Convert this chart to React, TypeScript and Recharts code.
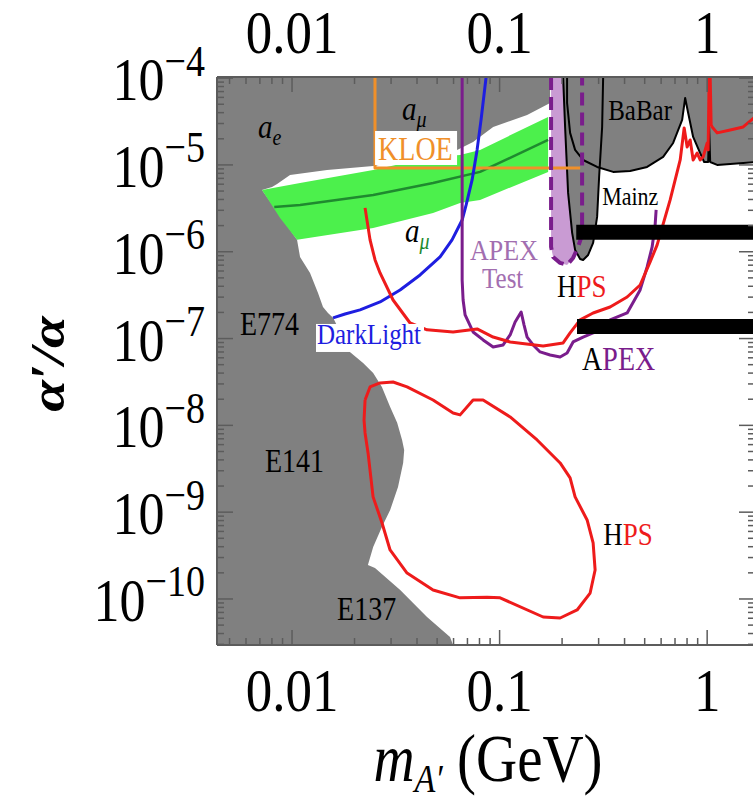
import type { ReactNode } from 'react'
import { ComposedChart, Scatter, XAxis, YAxis } from 'recharts'

type Pt = [number, number] // [m_A' in GeV, alpha'/alpha]

const SERIF = '"Liberation Serif", "Times New Roman", serif'
// the figure's lettering is a little taller than it is wide
const SY = 1.17

const GRAY = '#808080'
const BAND = '#4cf04c'
const BAND_LINE = '#1f8a2f'
const LILAC = '#c99bd3'
const PURPLE = '#7a1d8c'
const PURPLE_TEXT = '#a26eb0'
const RED = '#ee1b1b'
const BLUE = '#1e1ee0'
const ORANGE = '#f0902a'
const FRAME = '#5c5c5c'

const xDomain: [number, number] = [0.00435, 1.7]
const yDomain: [number, number] = [2.95e-11, 1.03e-4]
const xMajor = [0.01, 0.1, 1]
const yMajor = [1e-4, 1e-5, 1e-6, 1e-7, 1e-8, 1e-9, 1e-10]

// a_e, a_mu, E774, E141, E137 excluded region
const lowMassLimits: Pt[] = [
  [0.00435, 1.03e-4], [0.00435, 2.95e-11], [0.0597, 2.95e-11], [0.0577, 3.65e-11],
  [0.0447, 6.2e-11], [0.0332, 1.27e-10], [0.0251, 2.28e-10], [0.0232, 2.46e-10],
  [0.0246, 3.97e-10], [0.0271, 6.75e-10], [0.0297, 1.06e-9], [0.0324, 1.95e-9],
  [0.0343, 3.69e-9], [0.0347, 5.21e-9], [0.0339, 6.79e-9], [0.0321, 1.07e-8],
  [0.0297, 1.63e-8], [0.0271, 2.77e-8], [0.0246, 4.02e-8], [0.022, 5.24e-8],
  [0.019, 7.01e-8], [0.0158, 1.73e-7], [0.0149, 1.97e-7], [0.0141, 2.31e-7],
  [0.01334, 3.35e-7], [0.01221, 5.7e-7], [0.01093, 8.71e-7], [0.01057, 1.37e-6],
  [0.00717, 5.15e-6], [0.00801, 5.58e-6], [0.00847, 6.04e-6], [0.00978, 7.67e-6],
  [0.01475, 8.76e-6], [0.0246, 9.74e-6], [0.0383, 1.17e-5], [0.0597, 1.41e-5],
  [0.0745, 1.84e-5], [0.0931, 2.74e-5], [0.1357, 3.77e-5], [0.1751, 5.18e-5],
  [0.1751, 1.03e-4],
]

// muon g-2 favoured band and its central value
const g2Band: Pt[] = [
  [0.00717, 5.15e-6], [0.01093, 6.2e-6], [0.0246, 8.76e-6], [0.0478, 1.24e-5],
  [0.0645, 1.3e-5], [0.0805, 1.49e-5], [0.1713, 3.57e-5], [0.1713, 8.31e-6],
  [0.0805, 3.95e-6], [0.0645, 3.65e-6], [0.0478, 2.8e-6], [0.0246, 1.88e-6],
  [0.01057, 1.37e-6], [0.00876, 2.45e-6],
]
const g2Central: Pt[] = [
  [0.00821, 3.28e-6], [0.01093, 3.46e-6], [0.0246, 4.51e-6], [0.0478, 6.2e-6],
  [0.0805, 8.31e-6], [0.1713, 1.94e-5],
]

const apexTest: Pt[] = [
  [0.177, 1.03e-4], [0.177, 1.136e-6], [0.181, 8.71e-7], [0.1957, 7.43e-7],
  [0.2114, 7.05e-7], [0.226, 8.48e-7], [0.2389, 1.136e-6], [0.2497, 1.56e-6],
  [0.2497, 1.03e-4],
]

const mainz: Pt[] = [
  [0.2023, 1.03e-4], [0.2068, 2.74e-5], [0.2138, 4.76e-6], [0.2236, 1.65e-6],
  [0.2311, 1.049e-6], [0.2443, 8.26e-7], [0.2525, 8.04e-7], [0.267, 9.19e-7],
  [0.2822, 1.263e-6], [0.295, 2.52e-6], [0.3016, 7.27e-6], [0.3119, 2.74e-5],
  [0.3154, 1.03e-4],
]

const babar: Pt[] = [
  [0.2114, 1.03e-4], [0.2114, 5.18e-5], [0.2186, 2.34e-5], [0.2311, 1.49e-5],
  [0.2525, 1.14e-5], [0.295, 9.48e-6], [0.3524, 8.31e-6], [0.4254, 8.53e-6],
  [0.5137, 9.48e-6], [0.6137, 1.24e-5], [0.6857, 1.79e-5], [0.7577, 3.3e-5],
  [0.7834, 5.91e-5], [0.81, 3.97e-5], [0.856, 2.1e-5], [0.9253, 1.37e-5],
  [0.9672, 1.08e-5], [1.011, 1.08e-5], [1.022, 2.74e-5], [1.034, 1.08e-5],
  [1.117, 1.0e-5], [1.291, 1.027e-5], [1.7, 1.08e-5],
]
const babarTop: Pt[] = [[1.7, 1.03e-4]]

const kloe: Pt[] = [[0.0251, 1.03e-4], [0.0251, 9.23e-6], [0.2443, 9.23e-6]]

const darkLight: Pt[] = [
  [0.01576, 1.73e-7], [0.018, 1.92e-7], [0.02127, 2.14e-7], [0.02655, 2.64e-7],
  [0.03315, 3.63e-7], [0.0414, 5.4e-7], [0.05166, 8.71e-7], [0.059, 1.37e-6],
  [0.066, 2.32e-6], [0.069, 3.46e-6], [0.0737, 6.72e-6], [0.0779, 1.49e-5],
  [0.0814, 3.3e-5], [0.0861, 1.03e-4],
]

const apex: Pt[] = [
  [0.066, 1.03e-4], [0.066, 4.73e-7], [0.0667, 2.78e-7], [0.0682, 1.87e-7],
  [0.0745, 1.19e-7], [0.0833, 9.64e-8], [0.0931, 8.0e-8], [0.104, 8.44e-8],
  [0.1124, 1.1e-7], [0.1188, 1.55e-7], [0.127, 2.02e-7], [0.1312, 1.43e-7],
  [0.1357, 1.04e-7], [0.145, 8.44e-8], [0.1567, 7.01e-8], [0.1751, 6.47e-8],
  [0.1957, 6.14e-8], [0.2114, 6.82e-8], [0.226, 9.14e-8], [0.2525, 1.04e-7],
  [0.2822, 1.16e-7], [0.3407, 1.64e-7], [0.4116, 1.97e-7], [0.4754, 3.63e-7],
  [0.5137, 6.68e-7], [0.5431, 1.136e-6], [0.5615, 2.04e-6], [0.5677, 3.03e-6],
]

const hpsHigh: Pt[] = [
  [0.02248, 3.2e-6], [0.02376, 1.37e-6], [0.02512, 8.04e-7], [0.02655, 5.7e-7],
  [0.03067, 2.78e-7], [0.03704, 1.51e-7], [0.04472, 1.26e-7], [0.05969, 1.19e-7],
  [0.07792, 1.29e-7], [0.09305, 1.04e-7], [0.1124, 9.14e-8], [0.1621, 8.22e-8],
  [0.2023, 8.9e-8], [0.2186, 1.16e-7], [0.2443, 1.64e-7], [0.2822, 1.97e-7],
  [0.3407, 2.31e-7], [0.4116, 3.01e-7], [0.4754, 4.14e-7], [0.5312, 7.63e-7],
  [0.5741, 1.2e-6], [0.6632, 3.95e-6], [0.7413, 1.14e-5], [0.7748, 2.67e-5],
  [0.8009, 1.61e-5], [0.8281, 1.94e-5], [0.856, 1.14e-5], [0.8951, 1.37e-5],
  [0.9253, 1.14e-5], [0.9566, 1.24e-5], [1.0, 1.79e-5], [1.011, 1.49e-5],
  [1.022, 1.03e-4], [1.034, 1.03e-4], [1.045, 2.89e-5], [1.057, 2.74e-5],
  [1.117, 2.34e-5], [1.291, 2.53e-5], [1.491, 2.74e-5], [1.7, 3.57e-5],
]

const hpsLow: Pt[] = [
  [0.02248, 1.96e-8], [0.02376, 2.77e-8], [0.02655, 3.08e-8], [0.03067, 3.16e-8],
  [0.03582, 2.77e-8], [0.0478, 1.96e-8], [0.05969, 1.39e-8], [0.06451, 1.32e-8],
  [0.07453, 1.96e-8], [0.08326, 1.96e-8], [0.1124, 1.25e-8], [0.1516, 6.79e-9],
  [0.1957, 3.69e-9], [0.2186, 2.48e-9], [0.2311, 1.5e-9], [0.264, 8.13e-10],
  [0.2822, 4.42e-10], [0.2885, 2.16e-10], [0.273, 1.17e-10], [0.2363, 7.47e-11],
  [0.1957, 6.04e-11], [0.1621, 6.2e-11], [0.1006, 1.03e-10], [0.08704, 1.05e-10],
  [0.06451, 1.03e-10], [0.0478, 1.27e-10], [0.03582, 1.99e-10], [0.02967, 3.67e-10],
  [0.02714, 7.51e-10], [0.02457, 1.5e-9], [0.02324, 4.81e-9], [0.02248, 8.18e-9],
  [0.02223, 1.15e-8], [0.02248, 1.96e-8],
]

// thick black bars on the right
const barHigh: Pt[] = [[0.234, 2.04e-6], [1.7, 2.04e-6], [1.7, 1.37e-6], [0.234, 1.37e-6]]
const barLow: Pt[] = [[0.236, 1.68e-7], [1.7, 1.68e-7], [1.7, 1.13e-7], [0.236, 1.13e-7]]

// baseline-left anchor of every annotation
const labelAt: Record<string, Pt> = {
  ae: [0.00686, 2.05e-5],
  amuTop: [0.0339, 3.3e-5],
  kloe: [0.02597, 1.14e-5],
  amuBand: [0.03503, 1.3e-6],
  e774: [0.00561, 1.1e-7],
  darkLight: [0.01319, 8.66e-8],
  e141: [0.00741, 2.9e-9],
  e137: [0.01648, 5.73e-11],
  babar: [0.3334, 3.3e-5],
  mainz: [0.3119, 3.46e-6],
  apexTest: [0.07208, 8.04e-7],
  test: [0.0823, 3.83e-7],
  hpsHigh: [0.1892, 3.01e-7],
  apex: [0.2497, 4.35e-8],
  hpsLow: [0.3154, 4.19e-10],
}

// 2..9 marks inside every decade of a range
function minorTicks(lo: number, hi: number) {
  const out: number[] = []
  for (let e = Math.floor(Math.log10(lo)); e <= Math.ceil(Math.log10(hi)); e++) {
    for (let k = 2; k <= 9; k++) {
      const v = k * 10 ** e
      if (v > lo && v < hi) out.push(v)
    }
  }
  return out
}
const xTicks = [...xMajor, ...minorTicks(xDomain[0], xDomain[1])].sort((a, b) => a - b)
const yTicks = [...yMajor, ...minorTicks(yDomain[0], yDomain[1])].sort((a, b) => a - b)

const rows = (pts: Pt[]) => pts.map(([m, r]) => ({ m, r }))
const NoDot = () => <g />

function region(pts: Pt[], fill: string) {
  return (
    <Scatter
      data={rows(pts)}
      fill={fill}
      line={{ fill, stroke: 'none' }}
      shape={NoDot}
      isAnimationActive={false}
    />
  )
}

function curve(pts: Pt[], stroke: string, width: number, dash?: string) {
  return (
    <Scatter
      data={rows(pts)}
      fill={stroke}
      line={{ stroke, strokeWidth: width, strokeDasharray: dash, fill: 'none', strokeLinejoin: 'round' }}
      shape={NoDot}
      isAnimationActive={false}
    />
  )
}

function note(at: Pt, draw: (x: number, y: number) => ReactNode) {
  return (
    <Scatter
      data={rows([at])}
      shape={(p: any) => <g>{draw(p.cx, p.cy)}</g>}
      isAnimationActive={false}
    />
  )
}

function Txt(props: {
  x: number
  y: number
  size: number
  fill?: string
  italic?: boolean
  bold?: boolean
  anchor?: 'start' | 'middle' | 'end'
  children: ReactNode
}) {
  const { x, y, size, fill = '#000', italic, bold, anchor = 'start', children } = props
  return (
    <g transform={`translate(${x},${y}) scale(1,${SY})`}>
      <text
        fontFamily={SERIF}
        fontSize={size}
        fill={fill}
        fontStyle={italic ? 'italic' : 'normal'}
        fontWeight={bold ? 'bold' : 'normal'}
        textAnchor={anchor}
      >
        {children}
      </text>
    </g>
  )
}

function XTick(props: any) {
  const { x, y, payload, side } = props
  const v = payload.value
  const major = xMajor.includes(v)
  const dir = side === 'top' ? 1 : -1
  return (
    <g>
      <line x1={x} y1={y} x2={x} y2={y + dir * (major ? 15 : 7)} stroke={FRAME} strokeWidth={1.5} />
      {major && (
        <Txt x={x} y={side === 'top' ? y - 24 : y + 66} size={53} anchor="middle">
          {String(v)}
        </Txt>
      )}
    </g>
  )
}

function YTick(props: any) {
  const { x, y, payload, side } = props
  const v = payload.value
  const major = yMajor.includes(v)
  const dir = side === 'right' ? -1 : 1
  return (
    <g>
      <line x1={x} y1={y} x2={x + dir * (major ? 16 : 7)} y2={y} stroke={FRAME} strokeWidth={1.5} />
      {major && side !== 'right' && (
        <Txt x={x - 12} y={y + 22} size={52} anchor="end">
          10
          <tspan fontSize={38} dy={-21}>{`\u2212${-Math.round(Math.log10(v))}`}</tspan>
        </Txt>
      )}
    </g>
  )
}

function XTitle(props: any) {
  const vb = props.viewBox
  return (
    <Txt x={vb.x + vb.width / 2 + 2} y={vb.y + 136} size={57} anchor="middle">
      <tspan fontStyle="italic">m</tspan>
      <tspan fontStyle="italic" fontSize={34} dy={9}>{'A\u2032'}</tspan>
      <tspan dy={-9}> (GeV)</tspan>
    </Txt>
  )
}

function YTitle(props: any) {
  const vb = props.viewBox
  const cx = vb.x + 48
  const cy = vb.y + vb.height / 2 + 3
  return (
    <g transform={`translate(${cx},${cy}) scale(1,${SY}) rotate(-90)`}>
      <text fontFamily={SERIF} fontSize={49} fontWeight="bold" fontStyle="italic" textAnchor="middle" dy={16}>
        {'\u03b1\u2032/\u03b1'}
      </text>
    </g>
  )
}

const axisLine = { stroke: FRAME, strokeWidth: 2 }

export default function App() {
  return (
    <div style={{ position: 'absolute', left: 0, top: 0, width: 753, height: 797, overflow: 'hidden', background: '#fff' }}>
      <ComposedChart width={760} height={797} margin={{ top: 0, right: 0, bottom: 0, left: 0 }}>
        {region(lowMassLimits, GRAY)}
        {region(g2Band, BAND)}
        {curve(g2Central, BAND_LINE, 2.5)}
        {region(apexTest, LILAC)}
        {region(mainz, GRAY)}
        {region([...babar, ...babarTop], GRAY)}
        {curve(mainz, '#000', 2)}
        {curve(babar, '#000', 2)}
        {curve(kloe, ORANGE, 3)}
        {curve(darkLight, BLUE, 3)}
        {curve(apex, PURPLE, 3)}
        {curve(apexTest, PURPLE, 4, '13 7')}
        {curve(hpsHigh, RED, 3)}
        {curve(hpsLow, RED, 3)}
        {region(barHigh, '#000')}
        {region(barLow, '#000')}

        {note(labelAt.ae, (x, y) => (
          <Txt x={x} y={y} size={29} italic>
            a<tspan fontSize={20} dy={6}>e</tspan>
          </Txt>
        ))}
        {note(labelAt.amuTop, (x, y) => (
          <Txt x={x} y={y} size={29} italic>
            a<tspan fontSize={20} dy={6}>{'\u03bc'}</tspan>
          </Txt>
        ))}
        {note(labelAt.kloe, (x, y) => (
          <g>
            <rect x={x - 3} y={y - 29} width={82} height={34} fill="#fff" />
            <Txt x={x} y={y} size={28} fill={ORANGE}>KLOE</Txt>
          </g>
        ))}
        {note(labelAt.amuBand, (x, y) => (
          <Txt x={x} y={y} size={29} italic>
            a<tspan fontSize={20} dy={6} fill={BAND_LINE}>{'\u03bc'}</tspan>
          </Txt>
        ))}
        {note(labelAt.e774, (x, y) => <Txt x={x} y={y} size={28}>E774</Txt>)}
        {note(labelAt.darkLight, (x, y) => (
          <g>
            <rect x={x - 1} y={y - 20} width={108} height={28} fill="#fff" />
            <Txt x={x} y={y} size={25} fill={BLUE}>DarkLight</Txt>
          </g>
        ))}
        {note(labelAt.e141, (x, y) => <Txt x={x} y={y} size={28}>E141</Txt>)}
        {note(labelAt.e137, (x, y) => <Txt x={x} y={y} size={28}>E137</Txt>)}
        {note(labelAt.babar, (x, y) => <Txt x={x} y={y} size={25}>BaBar</Txt>)}
        {note(labelAt.mainz, (x, y) => <Txt x={x} y={y} size={22}>Mainz</Txt>)}
        {note(labelAt.apexTest, (x, y) => <Txt x={x} y={y} size={26} fill={PURPLE_TEXT}>APEX</Txt>)}
        {note(labelAt.test, (x, y) => <Txt x={x} y={y} size={25} fill={PURPLE_TEXT}>Test</Txt>)}
        {note(labelAt.hpsHigh, (x, y) => (
          <Txt x={x} y={y} size={27}>
            H<tspan fill={RED}>PS</tspan>
          </Txt>
        ))}
        {note(labelAt.apex, (x, y) => (
          <Txt x={x} y={y} size={28}>
            A<tspan fill={PURPLE}>PEX</tspan>
          </Txt>
        ))}
        {note(labelAt.hpsLow, (x, y) => (
          <Txt x={x} y={y} size={27}>
            H<tspan fill={RED}>PS</tspan>
          </Txt>
        ))}

        <XAxis
          dataKey="m"
          type="number"
          scale="log"
          domain={xDomain}
          allowDataOverflow
          ticks={xTicks}
          interval={0}
          height={152}
          tickSize={0}
          tickMargin={0}
          tickLine={false}
          axisLine={axisLine}
          tick={(p: any) => <XTick {...p} side="bottom" />}
          label={<XTitle />}
          zIndex={1000}
        />
        <XAxis
          xAxisId="top"
          orientation="top"
          dataKey="m"
          type="number"
          scale="log"
          domain={xDomain}
          allowDataOverflow
          ticks={xTicks}
          interval={0}
          height={77}
          tickSize={0}
          tickMargin={0}
          tickLine={false}
          axisLine={axisLine}
          tick={(p: any) => <XTick {...p} side="top" />}
          zIndex={1000}
        />
        <YAxis
          dataKey="r"
          type="number"
          scale="log"
          domain={yDomain}
          allowDataOverflow
          ticks={yTicks}
          interval={0}
          width={217}
          tickSize={0}
          tickMargin={0}
          tickLine={false}
          axisLine={axisLine}
          tick={(p: any) => <YTick {...p} side="left" />}
          label={<YTitle />}
          zIndex={1000}
        />
        <YAxis
          yAxisId="right"
          orientation="right"
          dataKey="r"
          type="number"
          scale="log"
          domain={yDomain}
          allowDataOverflow
          ticks={yTicks}
          interval={0}
          width={5}
          tickSize={0}
          tickMargin={0}
          tickLine={false}
          axisLine={axisLine}
          tick={(p: any) => <YTick {...p} side="right" />}
          zIndex={1000}
        />
      </ComposedChart>
    </div>
  )
}
